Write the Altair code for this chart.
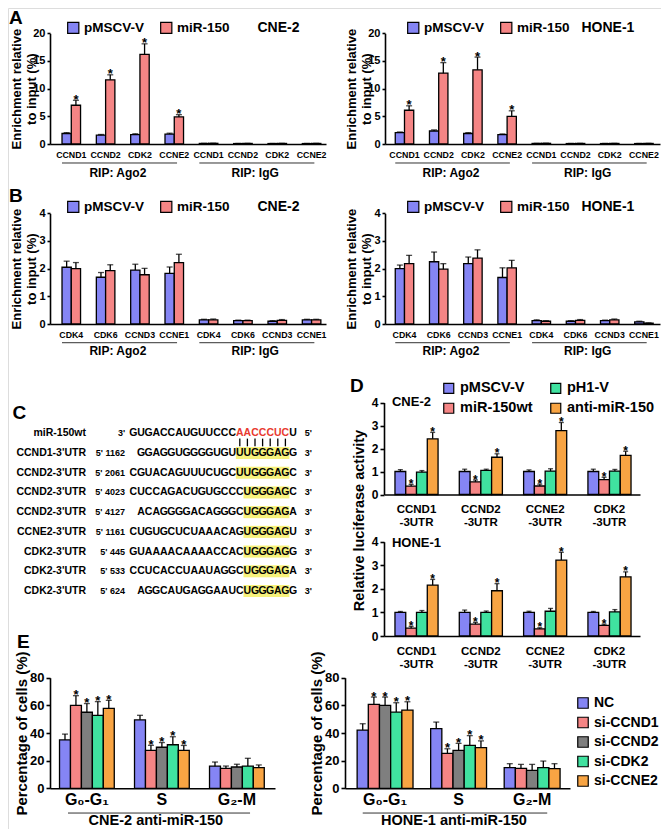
import altair as alt
import pandas as pd

FONT = "Liberation Sans"
W, H, M = 653, 821, 8   # drawing canvas = page minus its 8px margin

BLUE, RED, GREY, GREEN, ORANGE = "#8585F4", "#F58585", "#7F7F7F", "#40E2A0", "#F8A443"
YELLOW, SEQ_RED = "#F7F27B", "#E8392F"

# ======================= DATA =======================
rip_groups = ["Ago2", "IgG"]
rip_labels = ["RIP: Ago2", "RIP: IgG"]
series_AB = ["pMSCV-V", "miR-150"]

genes_A = ["CCND1", "CCND2", "CDK2", "CCNE2"]
A1_vec = [1.9, 1.6, 1.7, 1.8, 0.10, 0.08, 0.08, 0.08]
A1_vec_err = [0.15, 0.12, 0.15, 0.15, 0.02, 0.02, 0.02, 0.02]
A1_mir = [7.0, 11.6, 16.2, 4.9, 0.12, 0.10, 0.10, 0.10]
A1_mir_err = [0.9, 0.9, 1.9, 0.4, 0.02, 0.02, 0.02, 0.02]
A2_vec = [2.05, 2.35, 1.9, 1.7, 0.10, 0.08, 0.08, 0.08]
A2_vec_err = [0.12, 0.2, 0.15, 0.12, 0.02, 0.02, 0.02, 0.02]
A2_mir = [6.1, 12.8, 13.4, 5.0, 0.12, 0.10, 0.10, 0.10]
A2_mir_err = [0.8, 1.9, 2.3, 1.0, 0.02, 0.02, 0.02, 0.02]
A_mir_sig = [1, 1, 1, 1, 0, 0, 0, 0]
no_sig8 = [0, 0, 0, 0, 0, 0, 0, 0]

genes_B = ["CDK4", "CDK6", "CCND3", "CCNE1"]
B1_vec = [2.05, 1.69, 1.95, 1.83, 0.15, 0.12, 0.10, 0.15]
B1_vec_err = [0.22, 0.17, 0.21, 0.23, 0.02, 0.02, 0.02, 0.02]
B1_mir = [2.0, 1.93, 1.78, 2.22, 0.15, 0.12, 0.13, 0.15]
B1_mir_err = [0.22, 0.21, 0.23, 0.3, 0.03, 0.02, 0.03, 0.02]
B2_vec = [2.0, 2.25, 2.18, 1.68, 0.12, 0.10, 0.12, 0.08]
B2_vec_err = [0.13, 0.35, 0.24, 0.35, 0.03, 0.02, 0.02, 0.02]
B2_mir = [2.18, 1.98, 2.38, 2.03, 0.10, 0.13, 0.15, 0.03]
B2_mir_err = [0.3, 0.2, 0.3, 0.27, 0.02, 0.03, 0.03, 0.01]

C_names = ["miR-150wt", "CCND1-3'UTR", "CCND2-3'UTR", "CCND2-3'UTR", "CCND2-3'UTR",
           "CCNE2-3'UTR", "CDK2-3'UTR", "CDK2-3'UTR", "CDK2-3'UTR"]
C_pos = ["3'", "5' 1162", "5' 2061", "5' 4023", "5' 4127", "5' 1161", "5' 445", "5' 533", "5' 624"]
C_seqs = ["GUGACCAUGUUCCCAACCCUCU", "GGAGGUGGGGUGUUUGGGAGG", "CGUACAGUUUCUGCUUGGGAGC",
          "CUCCAGACUGUGCCCUGGGAGC", "ACAGGGGACAGGGCUGGGAGA", "CUGUGCUCUAAACAGUGGGAGU",
          "GUAAAACAAAACCACUGGGAGG", "CCUCACCUAAUAGGCUGGGAGA", "AGGCAUGAGGAAUCUGGGAGG"]
C_ends = ["5'", "3'", "3'", "3'", "3'", "3'", "3'", "3'", "3'"]
C_match = [7, 7, 7, 6, 6, 6, 6, 6, 6]   # seed-match length, ending one base before the end

D_genes = ["CCND1", "CCND2", "CCNE2", "CDK2"]
D_suffix = "-3UTR"
D_series = ["pMSCV-V", "miR-150wt", "pH1-V", "anti-miR-150"]
D_legend_order = ["pMSCV-V", "pH1-V", "miR-150wt", "anti-miR-150"]
D1_vec = [1.0, 1.0, 1.0, 1.0]
D1_vec_err = [0.08, 0.1, 0.07, 0.1]
D1_mir = [0.36, 0.55, 0.37, 0.65]
D1_mir_err = [0.08, 0.08, 0.08, 0.1]
D1_ph1 = [0.97, 1.05, 1.02, 1.02]
D1_ph1_err = [0.07, 0.05, 0.1, 0.07]
D1_anti = [2.42, 1.62, 2.78, 1.7]
D1_anti_err = [0.28, 0.15, 0.35, 0.18]
D2_vec = [1.0, 1.0, 1.0, 1.0]
D2_vec_err = [0.04, 0.1, 0.05, 0.04]
D2_mir = [0.33, 0.5, 0.3, 0.45]
D2_mir_err = [0.08, 0.08, 0.05, 0.05]
D2_ph1 = [1.0, 1.0, 1.05, 1.02]
D2_ph1_err = [0.08, 0.06, 0.12, 0.1]
D2_anti = [2.16, 1.92, 3.22, 2.51]
D2_anti_err = [0.24, 0.3, 0.33, 0.21]
D_sig = [1, 1, 1, 1]
D_nosig = [0, 0, 0, 0]

E_phases = ["G\u2080-G\u2081", "S", "G\u2082-M"]
E_series = ["NC", "si-CCND1", "si-CCND2", "si-CDK2", "si-CCNE2"]
E1_NC, E1_NC_err = [35.0, 49.5, 16.0], [4.2, 3.3, 3.0]
E1_D1, E1_D1_err = [60.0, 27.5, 14.4], [7.0, 3.6, 1.7]
E1_D2, E1_D2_err = [55.0, 29.7, 15.4], [6.3, 3.4, 2.0]
E1_K2, E1_K2_err = [52.7, 31.5, 16.1], [10.0, 5.8, 5.6]
E1_E2, E1_E2_err = [57.8, 27.5, 14.9], [5.8, 3.5, 2.0]
E2_NC, E2_NC_err = [42.1, 43.1, 14.9], [4.6, 4.8, 2.9]
E2_D1, E2_D1_err = [60.7, 25.3, 14.4], [5.3, 3.3, 2.9]
E2_D2, E2_D2_err = [60.0, 27.5, 13.0], [6.0, 5.0, 4.3]
E2_K2, E2_K2_err = [55.1, 31.1, 14.9], [6.8, 7.0, 4.8]
E2_E2, E2_E2_err = [56.6, 29.4, 14.2], [6.0, 4.9, 3.6]
E_sig = [1, 1, 0]
E_nosig = [0, 0, 0]

# ======================= LAYOUT (page pixels) =======================
LAY = {
    "A1": dict(x=(50, 326), y=(144, 33.3), pi=0.46, po=0.25, al=0.7),
    "A2": dict(x=(385, 660), y=(144, 33.3), pi=0.46, po=0.25, al=0.6),
    "B1": dict(x=(50, 326), y=(324, 213.3), pi=0.46, po=0.25, al=0.7),
    "B2": dict(x=(385, 660), y=(324, 213.3), pi=0.46, po=0.25, al=0.6),
    "D1": dict(x=(384, 640), y=(494.5, 402.5), pi=0.33, po=0.155, al=0.55),
    "D2": dict(x=(384, 640), y=(636, 541.7), pi=0.33, po=0.155, al=0.55),
    "E1": dict(x=(50, 275), y=(788.3, 677.7), pi=0.27, po=0.135, al=0.47),
    "E2": dict(x=(345, 570), y=(788.3, 677.7), pi=0.24, po=0.15, al=0.55),
}


def frame(cats, series_list):
    rows = []
    for name, vals, errs, sig in series_list:
        for c, v, e, s in zip(cats, vals, errs, sig):
            rows.append({"cat": c, "series": name, "val": v, "top": v + e, "star": "*" if s else ""})
    return pd.DataFrame(rows)


def axis_style(**kw):
    base = dict(labelFont=FONT, labelFontWeight="bold", labelColor="black",
                domainColor="black", domainWidth=1.6, tickColor="black", tickWidth=1.6,
                titleFont=FONT, titleFontWeight="bold", titleColor="black", grid=False,
                tickSize=4, labelPadding=2)
    base.update(kw)
    return alt.Axis(**base)


def bar_panel(df, cats, order, leg_order, leg_colors, lay, ydom, yticks, xlab, ylab,
              legend=None, cap=6.0, star_size=13, star_dy=3.5, extras=()):
    x0, x1 = lay["x"]
    yb, yt = lay["y"]
    xs = alt.Scale(domain=cats, range=[x0 - M, x1 - M], paddingInner=lay["pi"],
                   paddingOuter=lay["po"], align=lay["al"])
    ys = alt.Scale(domain=ydom, range=[yb - M, yt - M], nice=False, zero=True)
    xo = alt.XOffset("series:N", scale=alt.Scale(domain=order, paddingInner=0, paddingOuter=0))
    xax = axis_style(orient="bottom", offset=(yb - M) - H, ticks=False, labelAngle=0, title=None, **xlab)
    yax = axis_style(orient="left", offset=-(x0 - M), values=yticks, **ylab)
    col = alt.Color("series:N", scale=alt.Scale(domain=leg_order, range=leg_colors), legend=legend)
    X = alt.X("cat:N", scale=xs, axis=xax)
    base = alt.Chart(df)
    bars = base.mark_bar(stroke="black", strokeWidth=1.3).encode(
        x=X, xOffset=xo, y=alt.Y("val:Q", scale=ys, axis=yax), color=col)
    err = base.mark_rule(color="black", strokeWidth=1.3).encode(
        x=X, xOffset=xo, y=alt.Y("val:Q", scale=ys, axis=yax), y2="top:Q")
    caps = base.mark_tick(color="black", thickness=1.3, size=cap).encode(
        x=X, xOffset=xo, y=alt.Y("top:Q", scale=ys, axis=yax))
    stars = base.transform_filter("datum.star != ''").mark_text(
        font=FONT, fontWeight="bold", fontSize=star_size, baseline="alphabetic",
        dy=star_dy, color="black").encode(
        x=X, xOffset=xo, y=alt.Y("top:Q", scale=ys, axis=yax), text="star:N")
    layers = [bars, err, caps, stars] + [mk(xs, ys, xax, yax) for mk in extras]
    return alt.layer(*layers)


def group_labels(starts, ends, mids, labels, line_y, text_y, b0, b1, bmid, dx, size):
    gdf = pd.DataFrame({"start": starts, "end": ends, "mid": mids, "label": labels})

    def make(xs, ys, xax, yax):
        c = alt.Chart(gdf)
        rule = c.mark_rule(color="#333333", strokeWidth=1).encode(
            x=alt.X("start:N", scale=xs, axis=xax, bandPosition=b0),
            x2=alt.X2("end", bandPosition=b1),
            y=alt.YDatum(line_y, type="quantitative", scale=ys, axis=yax))
        txt = c.mark_text(font=FONT, fontWeight="bold", fontSize=size, baseline="middle",
                          color="black", dx=dx).encode(
            x=alt.X("mid:N", scale=xs, axis=xax, bandPosition=bmid),
            y=alt.YDatum(text_y, type="quantitative", scale=ys, axis=yax),
            text="label:N")
        return alt.layer(rule, txt)
    return make


def anchored_text(text, xd, yd, dx, dy, size, align="left"):
    def make(xs, ys, xax, yax):
        return alt.Chart(pd.DataFrame({"t": [text]})).mark_text(
            font=FONT, fontWeight="bold", fontSize=size, align=align, baseline="middle",
            dx=dx, dy=dy, color="black").encode(
            x=alt.XDatum(xd, type="nominal", scale=xs, axis=xax, bandPosition=0),
            y=alt.YDatum(yd, type="quantitative", scale=ys, axis=yax),
            text="t:N")
    return make


def ab_legend(lx, ly, title, tpad):
    return alt.Legend(orient="none", legendX=lx - M, legendY=ly - M, direction="horizontal",
                      title=title, titleOrient="right", titlePadding=tpad, titleFont=FONT,
                      titleFontSize=14, titleFontWeight="bold", titleColor="black",
                      titleBaseline="middle", symbolType="square", symbolSize=125,
                      symbolStrokeColor="black", symbolStrokeWidth=1.2, symbolOpacity=1,
                      labelFont=FONT, labelFontSize=13.5, labelFontWeight="bold", labelColor="black",
                      labelOffset=4, columnPadding=13, padding=0)


AB_title = ["Enrichment relative", "to input (%)"]
ab_ylab = dict(labelFontSize=11, tickSize=3, title=AB_title, titleFontSize=13, titleX=-27)
ab_xlab = dict(labelExpr="split(datum.value, '|')[1]", labelFontSize=8.8, labelPadding=6)


def ab_cats(genes):
    return [g + "|" + n for g in rip_groups for n in genes]


def ab_panel(key, genes, vec, vec_err, mir, mir_err, sig, ydom, yticks, legend, extras):
    cats = ab_cats(genes)
    df = frame(cats, [(series_AB[0], vec, vec_err, no_sig8), (series_AB[1], mir, mir_err, sig)])
    return bar_panel(df, cats, series_AB, series_AB, [BLUE, RED], LAY[key], ydom, yticks,
                     ab_xlab, ab_ylab, legend=legend, extras=extras)


cA, cB = ab_cats(genes_A), ab_cats(genes_B)
rip_A = group_labels([cA[0], cA[4]], [cA[3], cA[7]], [cA[1], cA[5]], rip_labels, -3.43, -5.15, 0, 0.65, 1, 3, 12)
rip_B = group_labels([cB[0], cB[4]], [cB[3], cB[7]], [cB[1], cB[5]], rip_labels, -0.676, -0.976, 0, 0.65, 1, 3, 12)

A1 = ab_panel("A1", genes_A, A1_vec, A1_vec_err, A1_mir, A1_mir_err, A_mir_sig, [0, 20], [0, 5, 10, 15, 20],
              ab_legend(66.5, 21, "CNE-2", 28),
              [rip_A, anchored_text("A", cA[0], 20, -53, -15.3, 19)])
A2 = ab_panel("A2", genes_A, A2_vec, A2_vec_err, A2_mir, A2_mir_err, A_mir_sig, [0, 20], [0, 5, 10, 15, 20],
              ab_legend(406.5, 21, "HONE-1", 12), [rip_A])
B1 = ab_panel("B1", genes_B, B1_vec, B1_vec_err, B1_mir, B1_mir_err, no_sig8, [0, 4], [0, 1, 2, 3, 4],
              ab_legend(66.5, 200, "CNE-2", 28),
              [rip_B, anchored_text("B", cB[0], 4, -53, -17.3, 19)])
B2 = ab_panel("B2", genes_B, B2_vec, B2_vec_err, B2_mir, B2_mir_err, no_sig8, [0, 4], [0, 1, 2, 3, 4],
              ab_legend(406.5, 200, "HONE-1", 12), [rip_B])

# ---------------- panel C ----------------
chars, hls = [], []
for r, (seq, mlen) in enumerate(zip(C_seqs, C_match)):
    L = len(seq)
    for i, ch in enumerate(seq):
        colidx = 21 - (L - 1 - i)
        inm = (L - 1 - mlen) <= i < (L - 1)
        chars.append({"row": r, "col": colidx, "ch": ch,
                      "fg": SEQ_RED if (r == 0 and inm) else "black"})
        if r > 0 and inm:
            hls.append({"row": r, "col": colidx})
pair_cols = [c["col"] for c in chars if c["row"] == 0 and c["fg"] == SEQ_RED]
C_rows = pd.DataFrame({"row": list(range(len(C_names))), "name": C_names, "pos": C_pos, "end": C_ends})

cx = alt.Scale(domain=[0, 21], range=[133.4 - M, 293 - M], nice=False, zero=False)
cy = alt.Scale(domain=[0, 8], range=[433.3 - M, 591 - M], nice=False, zero=False)
CX = alt.X("col:Q", scale=cx, axis=None)
CY = alt.Y("row:Q", scale=cy, axis=None)

c_hl = alt.Chart(pd.DataFrame(hls)).mark_tick(orient="vertical", thickness=7.9, size=12,
                                                color=YELLOW, opacity=1).encode(x=CX, y=CY)
c_seq = alt.Chart(pd.DataFrame(chars)).mark_text(font=FONT, fontWeight="bold", fontSize=10.5,
                                                 align="center", baseline="middle").encode(
    x=CX, y=CY, text="ch:N", color=alt.Color("fg:N", scale=None))
c_pair = alt.Chart(pd.DataFrame({"col": pair_cols})).mark_rule(color="black", strokeWidth=1.3).encode(
    x=CX, y=alt.YDatum(0.27, type="quantitative", scale=cy, axis=None), y2=alt.Y2Datum(0.66))
c_name = alt.Chart(C_rows).mark_text(font=FONT, fontWeight="bold", fontSize=10.5, align="right",
                                     baseline="middle", color="black").encode(
    x=alt.XDatum(-6.24, type="quantitative", scale=cx, axis=None), y=CY, text="name:N")
c_posl = alt.Chart(C_rows).mark_text(font=FONT, fontWeight="bold", fontSize=9, align="right",
                                     baseline="middle", color="black").encode(
    x=alt.XDatum(-1.1, type="quantitative", scale=cx, axis=None), y=CY, text="pos:N")
c_endl = alt.Chart(C_rows).mark_text(font=FONT, fontWeight="bold", fontSize=9, align="left",
                                     baseline="middle", color="black").encode(
    x=alt.XDatum(22.55, type="quantitative", scale=cx, axis=None), y=CY, text="end:N")
c_letter = alt.Chart(pd.DataFrame({"t": ["C"]})).mark_text(
    font=FONT, fontWeight="bold", fontSize=19, align="left", baseline="middle", color="black").encode(
    x=alt.XDatum(-15.9, type="quantitative", scale=cx, axis=None),
    y=alt.YDatum(-1.03, type="quantitative", scale=cy, axis=None),
    text="t:N")
C = alt.layer(c_hl, c_seq, c_pair, c_name, c_posl, c_endl, c_letter)

# ---------------- panel D ----------------
D_cats = [g + "|" + D_suffix for g in D_genes]
D_colors_leg = [BLUE, GREEN, RED, ORANGE]
d_xlab = dict(labelExpr="split(datum.value, '|')", labelFontSize=11.5, labelPadding=9, labelLineHeight=13)


def d_panel(key, vals, ylab, legend, extras):
    df = frame(D_cats, vals)
    return bar_panel(df, D_cats, D_series, D_legend_order, D_colors_leg, LAY[key], [0, 4], [0, 1, 2, 3, 4],
                     d_xlab, ylab, legend=legend, cap=5, star_size=12, extras=extras)


d_legend = alt.Legend(orient="none", legendX=441.5 - M, legendY=381 - M, columns=2, direction="horizontal",
                      title=None, symbolType="square", symbolSize=100, symbolStrokeColor="black",
                      symbolStrokeWidth=1.2, symbolOpacity=1, labelFont=FONT, labelFontSize=14.5,
                      labelFontWeight="bold", labelColor="black", labelOffset=4, columnPadding=14,
                      rowPadding=4, padding=0)
D1 = d_panel("D1", [(D_series[0], D1_vec, D1_vec_err, D_nosig), (D_series[1], D1_mir, D1_mir_err, D_sig),
                    (D_series[2], D1_ph1, D1_ph1_err, D_nosig), (D_series[3], D1_anti, D1_anti_err, D_sig)],
             dict(labelFontSize=12, title="Relative luciferase activity", titleFontSize=14.5,
                  titlePadding=5, titleY=520 - M),
             d_legend,
             [anchored_text("CNE-2", D_cats[0], 4, -3, -1, 13),
              anchored_text("D", D_cats[0], 4, -45, -16.5, 19)])
D2 = d_panel("D2", [(D_series[0], D2_vec, D2_vec_err, D_nosig), (D_series[1], D2_mir, D2_mir_err, D_sig),
                    (D_series[2], D2_ph1, D2_ph1_err, D_nosig), (D_series[3], D2_anti, D2_anti_err, D_sig)],
             dict(labelFontSize=12, title=None),
             None,
             [anchored_text("HONE-1", D_cats[0], 4, -3, 1, 13)])

# ---------------- panel E ----------------
E_colors = [BLUE, RED, GREY, GREEN, ORANGE]
e_xlab = dict(labelFontSize=16, labelPadding=3)
e_ylab = dict(labelFontSize=13, title="Percentage of cells (%)", titleFontSize=15, titleX=-20.5)


def e_panel(key, vals, legend, extras):
    df = frame(E_phases, vals)
    return bar_panel(df, E_phases, E_series, E_series, E_colors, LAY[key], [0, 80], [0, 20, 40, 60, 80],
                     e_xlab, e_ylab, legend=legend, cap=6, star_size=13, extras=extras)


e_legend = alt.Legend(orient="none", legendX=576 - M, legendY=696 - M, direction="vertical", title=None,
                      symbolType="square", symbolSize=110, symbolStrokeColor="black", symbolStrokeWidth=1.2,
                      symbolOpacity=1, labelFont=FONT, labelFontSize=14, labelFontWeight="bold",
                      labelColor="black", labelOffset=4, rowPadding=3.5, padding=0)
E1 = e_panel("E1", [(E_series[0], E1_NC, E1_NC_err, E_nosig), (E_series[1], E1_D1, E1_D1_err, E_sig),
                    (E_series[2], E1_D2, E1_D2_err, E_sig), (E_series[3], E1_K2, E1_K2_err, E_sig),
                    (E_series[4], E1_E2, E1_E2_err, E_sig)],
             None,
             [group_labels([E_phases[0]], [E_phases[2]], [E_phases[1]], ["CNE-2 anti-miR-150"],
                           -17.9, -24.0, 0.155, 0.74, 0.5, -6, 14.5),
              anchored_text("E", E_phases[0], 80, -42.5, -35.7, 19)])
E2 = e_panel("E2", [(E_series[0], E2_NC, E2_NC_err, E_nosig), (E_series[1], E2_D1, E2_D1_err, E_sig),
                    (E_series[2], E2_D2, E2_D2_err, E_sig), (E_series[3], E2_K2, E2_K2_err, E_sig),
                    (E_series[4], E2_E2, E2_E2_err, E_sig)],
             e_legend,
             [group_labels([E_phases[0]], [E_phases[2]], [E_phases[1]], ["HONE-1 anti-miR-150"],
                           -17.9, -24.0, 0.1, 0.77, 0.5, -4.6, 14.5)])

chart = alt.layer(A1, A2, B1, B2, C, D1, D2, E1, E2).resolve_scale(
    x="independent", y="independent", xOffset="independent", color="independent"
).properties(
    width=W, height=H, autosize=alt.AutoSizeParams(type="none"), padding=0
).configure_view(stroke=None).configure(background="white")

chart.save("out.html", embed_options={"renderer": "svg", "actions": False})
